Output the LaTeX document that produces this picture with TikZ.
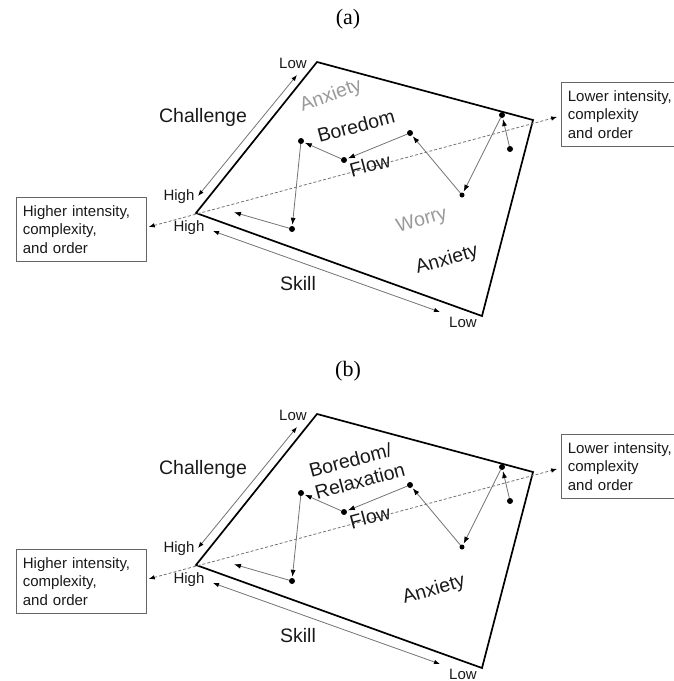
\documentclass[tikz,border=0pt]{standalone}
\usepackage{fontspec}
\setmainfont{Liberation Serif}
\setsansfont{Liberation Sans}
\usetikzlibrary{arrows.meta}

\tikzset{
	rim/.style={line width=1.7pt, line join=miter},
	trail/.style={draw=black!55, line width=0.8pt, -{Latex[length=7pt,width=5pt,black]}, shorten >=1pt},
	axis/.style={draw=black!55, line width=0.8pt, {Latex[length=6pt,width=4.5pt,black]}-{Latex[length=6pt,width=4.5pt,black]}},
	dashln/.style={draw=black!55, line width=0.8pt, dash pattern=on 3pt off 2pt, {Latex[length=6pt,width=4.5pt,black]}-{Latex[length=6pt,width=4.5pt,black]}, shorten <=2pt, shorten >=4pt},
	dot/.style={circle, fill=black, inner sep=0pt, minimum size=6pt},
	big/.style={font=\sffamily\fontsize{19.5}{22.5}\selectfont, text=black!90, inner sep=0.5pt},
	small/.style={font=\sffamily\fontsize{15}{18.5}\selectfont, text=black!90, inner sep=0.5pt},
	faint/.style={big, text=black!40},
	infobox/.style={small, draw=black!60, line width=0.8pt, align=left, text width=117pt, inner xsep=6.5pt, inner ysep=5pt, minimum height=64pt, anchor=north west}
}

\begin{document}
\begin{tikzpicture}[x=1pt, y=-1pt]
	\useasboundingbox (0,0) rectangle (673,681);
	\foreach \p/\dy in {a/0, b/352} {
		\begin{scope}[shift={(0,\dy)}]
			\node[font=\fontsize{22}{24}\selectfont] (cap-\p) at (348,19) {(\p)};
			\coordinate (\p-w) at (196,213);
			\coordinate (\p-n) at (317,62);
			\coordinate (\p-e) at (533,120);
			\coordinate (\p-s) at (482,316);
			\draw[rim] (\p-w) -- (\p-n) -- (\p-e) -- (\p-s) -- cycle;
			\node[infobox] (hi-\p) at (16,197) {Higher intensity,\\complexity,\\and order};
			\node[infobox] (lo-\p) at (561,82) {Lower intensity,\\complexity\\and order};
			\draw[dashln] ([yshift=2pt]hi-\p.east) -- ([yshift=-1.5pt]lo-\p.west);
			\coordinate (\p-cl) at (297,75);
			\coordinate (\p-ch) at (198,196);
			\draw[axis] (\p-ch) -- (\p-cl);
			\coordinate (\p-sh) at (213,231);
			\coordinate (\p-sl) at (440,312);
			\draw[axis] (\p-sh) -- (\p-sl);
			\node[small] (\p-low1) at (293,63) {Low};
			\node[small] (\p-high1) at (179,197) {High};
			\node[small] (\p-high2) at (189,228) {High};
			\node[small] (\p-low2) at (463,322) {Low};
			\node[big] (\p-chal) at (203,117) {Challenge};
			\node[big] (\p-skill) at (298,284) {Skill};
			\node[big, rotate=15] (\p-flow) at (370,165) {Flow};
			\node[dot] (\p-G) at (510,149) {};
			\node[dot] (\p-F) at (502,115) {};
			\node[dot, minimum size=5pt] (\p-E) at (462,195) {};
			\node[dot] (\p-D) at (410,133) {};
			\node[dot] (\p-B) at (344,160) {};
			\node[dot] (\p-A) at (301,141) {};
			\node[dot] (\p-C) at (292,229) {};
			\coordinate (\p-end) at (233,212);
			\path[trail]
			(\p-G) edge (\p-F)
			(\p-F) edge (\p-E)
			(\p-E) edge (\p-D)
			(\p-D) edge (\p-B)
			(\p-B) edge (\p-A)
			(\p-A) edge (\p-C)
			(\p-C) edge (\p-end)
			;
		\end{scope}
	}
	\node[faint, rotate=20] (a-anx1) at (331,96) {Anxiety};
	\node[big, rotate=15] (a-bore) at (356,126) {Boredom};
	\node[faint, rotate=16] (a-worry) at (422,221) {Worry};
	\node[big, rotate=16] (a-anx2) at (447,260) {Anxiety};
	\node[big, rotate=15, align=left] (b-bore) at (357,470) {Boredom/\\Relaxation};
	\node[big, rotate=16] (b-anx) at (434,590) {Anxiety};
\end{tikzpicture}
\end{document}
